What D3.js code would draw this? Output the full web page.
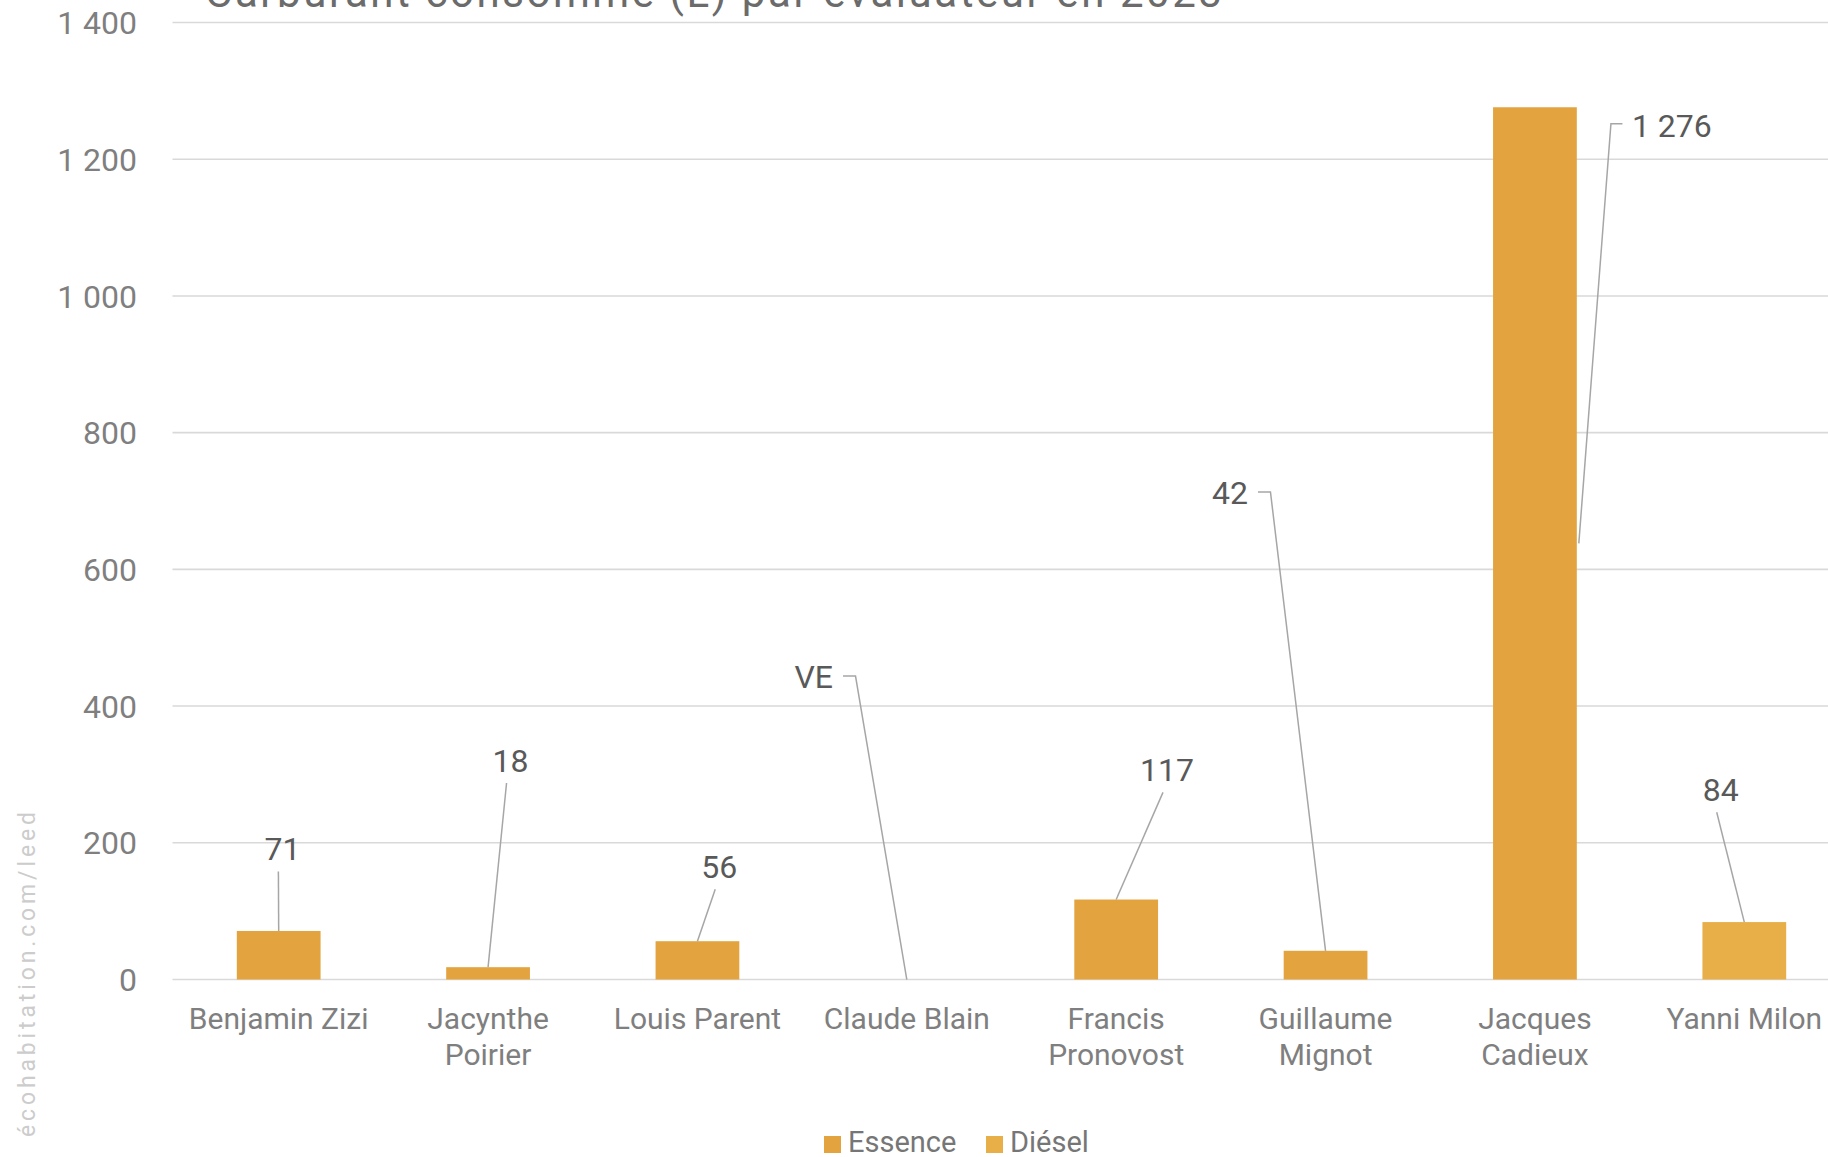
<!DOCTYPE html>
<html lang="fr">
<head>
<meta charset="utf-8">
<script src="https://cdn.jsdelivr.net/npm/d3@7/dist/d3.min.js"></script>
<style>
  html, body { margin: 0; padding: 0; background: #fff; overflow: hidden; }
  svg { display: block; font-family: Roboto, "Noto Sans", sans-serif; }
</style>
</head>
<body>
<svg id="chart" width="1828" height="1157"></svg>
<script>
// Fuel consumed per assessor (litres)
const categories = ["Benjamin Zizi", "Jacynthe Poirier", "Louis Parent", "Claude Blain",
                    "Francis Pronovost", "Guillaume Mignot", "Jacques Cadieux", "Yanni Milon"];
const categoryLines = [["Benjamin Zizi"], ["Jacynthe", "Poirier"], ["Louis Parent"], ["Claude Blain"],
                       ["Francis", "Pronovost"], ["Guillaume", "Mignot"], ["Jacques", "Cadieux"], ["Yanni Milon"]];
const litres = [71, 18, 56, 0, 117, 42, 1276, 84];
const fuel = ["Essence", "Essence", "Essence", "Électrique", "Essence", "Essence", "Essence", "Diésel"];
const legendSeries = ["Essence", "Diésel"];
const yTicks = [0, 200, 400, 600, 800, 1000, 1200, 1400];
const title = "Carburant consommé (L) par évaluateur en 2023";
const watermark = "écohabitation.com/leed";

// Hand-placed data labels: offset from the top of each bar, and which side the leader leaves from
const labelLayout = [
  { dx: 3.7,   dy: -82.5,  side: "above" },
  { dx: 22.5,  dy: -207.2, side: "above" },
  { dx: 21.8,  dy: -75,    side: "above" },
  { dx: -73.8, dy: -303.5, side: "left"  },
  { dx: 50.8,  dy: -130.1, side: "above" },
  { dx: -77.6, dy: -458.8, side: "left"  },
  { dx: 97,    dy: 18.4,   side: "right" },
  { dx: -23.6, dy: -132.8, side: "above" }
];

const colors = { "Essence": "#E3A33F", "Diésel": "#E8AE48", "Électrique": "#E3A33F" };

const fr = d3.formatLocale({ decimal: ",", thousands: " ", grouping: [3], currency: ["", " $"] });
const fmt = fr.format(",d");

const svg = d3.select("#chart");

const x = d3.scaleBand()
  .domain(categories)
  .range([174, 1849])
  .paddingInner(0.6)
  .paddingOuter(0.3);

const y = d3.scaleLinear().domain([0, 1400]).range([979.5, 22.5]);

// Title (sits partly above the visible area)
svg.append("text")
  .attr("x", 205).attr("y", 7)
  .attr("font-size", 42)
  .attr("fill", "#6b6b6b")
  .attr("textLength", 1017)
  .attr("lengthAdjust", "spacing")
  .text(title);

// Gridlines
const grid = svg.append("g");
grid.selectAll("line")
  .data(yTicks)
  .join("line")
  .attr("x1", 172.5).attr("x2", 1849)
  .attr("y1", d => y(d)).attr("y2", d => y(d))
  .attr("stroke", "#d9d9d9")
  .attr("stroke-width", 1.6);

// Y axis labels
const yAxis = svg.append("g")
  .attr("transform", "translate(137,0)")
  .call(d3.axisLeft(y).tickValues(yTicks).tickFormat(fmt).tickSize(0).tickPadding(0));
yAxis.select(".domain").remove();
yAxis.selectAll("text")
  .attr("font-size", 32)
  .attr("font-family", "Roboto, 'Noto Sans', sans-serif")
  .attr("fill", "#7f7f7f")
  .attr("dy", "0.35em");

// Bars
svg.append("g").selectAll("rect")
  .data(categories)
  .join("rect")
  .attr("x", d => x(d))
  .attr("width", x.bandwidth())
  .attr("y", (d, i) => y(litres[i]))
  .attr("height", (d, i) => y(0) - y(litres[i]))
  .attr("fill", (d, i) => colors[fuel[i]]);

// Category labels
const cat = svg.append("g").selectAll("text")
  .data(categories)
  .join("text")
  .attr("x", d => x(d) + x.bandwidth() / 2)
  .attr("y", 1029)
  .attr("text-anchor", "middle")
  .attr("font-size", 30)
  .attr("fill", "#7f7f7f");
cat.each(function (d, i) {
  d3.select(this).selectAll("tspan")
    .data(categoryLines[i])
    .join("tspan")
    .attr("x", x(d) + x.bandwidth() / 2)
    .attr("dy", (t, j) => j === 0 ? 0 : 36)
    .text(t => t);
});

// Data labels with leader lines
const labels = svg.append("g");
categories.forEach((c, i) => {
  const bx = x(c) + x.bandwidth() / 2;
  const by = y(litres[i]);
  const L = labelLayout[i];
  const lx = bx + L.dx, ly = by + L.dy;
  const txt = fuel[i] === "Électrique" ? "VE" : fmt(litres[i]);
  let pts, anchor;
  if (L.side === "above") {
    anchor = "middle";
    pts = [[lx - 4, ly + 23], [bx, by]];
  } else if (L.side === "left") {
    anchor = "end";
    pts = [[lx + 10, ly], [lx + 22.5, ly], [bx, by]];
  } else {
    anchor = "start";
    const ex = x(c) + x.bandwidth();
    const ey = (y(litres[i]) + y(0)) / 2;
    pts = [[lx - 9.5, ly - 2], [lx - 21, ly - 2], [ex + 2, ey]];
  }
  labels.append("path")
    .attr("d", d3.line()(pts))
    .attr("fill", "none")
    .attr("stroke", "#a6a6a6")
    .attr("stroke-width", 1.5);
  labels.append("text")
    .attr("x", lx).attr("y", ly)
    .attr("dy", "0.36em")
    .attr("text-anchor", anchor)
    .attr("font-size", 32)
    .attr("fill", "#595959")
    .text(txt);
});

// Legend
const legendX = [824, 986];
const legend = svg.append("g");
legendSeries.forEach((s, i) => {
  legend.append("rect")
    .attr("x", legendX[i]).attr("y", 1136)
    .attr("width", 17).attr("height", 17)
    .attr("fill", colors[s]);
  legend.append("text")
    .attr("x", legendX[i] + 24).attr("y", 1152)
    .attr("font-size", 29)
    .attr("fill", "#767676")
    .text(s);
});

// Watermark along the left edge
svg.append("text")
  .attr("transform", "translate(35,1137) rotate(-90)")
  .attr("font-size", 23)
  .attr("fill", "#cccccc")
  .attr("textLength", 325)
  .attr("lengthAdjust", "spacing")
  .text(watermark);
</script>
</body>
</html>
